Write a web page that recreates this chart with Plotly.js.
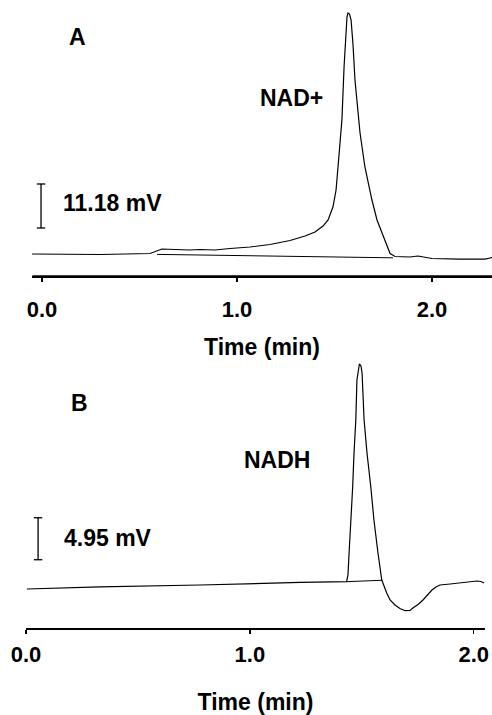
<!DOCTYPE html>
<html>
<head>
<meta charset="utf-8">
<script src="https://cdn.plot.ly/plotly-3.0.1.min.js"></script>
<style>html,body{margin:0;padding:0;background:#fff;}#chart{width:492px;height:715px;}</style>
</head>
<body>
<div id="chart"></div>
<script>
// Panel A (NAD+) chromatogram: time (min) and detector signal (mV, relative)
const timeA = [-0.051, 0.092, 0.297, 0.554, 0.590, 0.615, 0.682, 0.759, 0.810, 0.887, 0.964, 1.067, 1.169, 1.272, 1.349, 1.400, 1.441, 1.467, 1.492, 1.508, 1.518, 1.528, 1.538, 1.549, 1.559, 1.564, 1.569, 1.577, 1.585, 1.595, 1.605, 1.615, 1.631, 1.656, 1.692, 1.718, 1.744, 1.764, 1.785, 1.810, 1.887, 1.928, 1.964, 2.000, 2.144, 2.272, 2.297, 2.308];
const signalA = [0.00, 0.00, -0.13, 0.13, 0.76, 1.27, 1.14, 1.02, 1.14, 1.02, 1.40, 1.78, 2.41, 3.43, 4.57, 5.59, 7.11, 8.64, 11.94, 16.26, 22.11, 27.70, 34.05, 47.52, 58.19, 60.22, 61.24, 60.98, 59.46, 53.11, 44.21, 39.13, 30.75, 22.11, 13.72, 8.64, 5.34, 2.29, 0.13, -0.64, -0.76, -0.51, -0.90, -1.14, -1.30, -1.30, -1.02, -0.89];
const baseTimeA = [0.590, 1.800];
const baseSignalA = [-0.10, -0.97];

// Panel B (NADH) chromatogram
const timeB = [0.004, 0.330, 0.777, 1.000, 1.224, 1.432, 1.438, 1.443, 1.452, 1.459, 1.465, 1.473, 1.478, 1.483, 1.489, 1.496, 1.501, 1.510, 1.523, 1.540, 1.554, 1.572, 1.589, 1.611, 1.626, 1.648, 1.670, 1.693, 1.715, 1.728, 1.751, 1.773, 1.795, 1.813, 1.831, 1.849, 1.894, 1.939, 1.983, 2.014, 2.032, 2.046];
const signalB = [0.00, 0.24, 0.47, 0.65, 0.77, 0.86, 1.65, 4.24, 8.14, 12.03, 16.03, 19.93, 24.64, 25.82, 26.53, 26.29, 25.47, 19.93, 16.03, 12.03, 8.14, 4.24, 1.06, -0.47, -1.30, -1.89, -2.30, -2.56, -2.53, -2.24, -1.83, -1.30, -0.59, -0.12, 0.24, 0.47, 0.59, 0.74, 0.88, 0.94, 0.88, 0.71];
const baseTimeB = [1.432, 1.590];
const baseSignalB = [0.86, 1.03];

// Scale bars (mV)
const scaleA = 11.18;
const scaleB = 4.95;

// Tick labels
const tickVals = [0, 1, 2];
const tickText = ['0.0', '1.0', '2.0'];
const xTitle = 'Time (min)';
const peakA = 'NAD+';
const peakB = 'NADH';

const FONT = 'Liberation Sans, Arial, Helvetica, sans-serif';
const bold = (s) => ({family: FONT, size: s, color: '#000', weight: 'bold'});
const lineStyle = {color: '#000', width: 1.2};

const rangeXA = [-0.0513, 2.3077], rangeYA = [-5.59, 64.54];
const rangeXB = [0, 2.05], rangeYB = [-4.60, 27.0];

const barA_x = -0.005, barA_y0 = 6.61;
const barB_x = 0.054, barB_y0 = 3.45;

const traces = [
  {x: timeA, y: signalA, xaxis: 'x', yaxis: 'y', mode: 'lines', line: lineStyle, hoverinfo: 'skip'},
  {x: baseTimeA, y: baseSignalA, xaxis: 'x', yaxis: 'y', mode: 'lines', line: {color: '#000', width: 1}, hoverinfo: 'skip'},
  {x: [barA_x, barA_x], y: [barA_y0, barA_y0 + scaleA], xaxis: 'x', yaxis: 'y', mode: 'lines+markers',
   line: {color: '#000', width: 1.3}, marker: {symbol: 'line-ew-open', size: 6, color: '#000', line: {color: '#000', width: 1.3}}, hoverinfo: 'skip'},
  {x: timeB, y: signalB, xaxis: 'x2', yaxis: 'y2', mode: 'lines', line: lineStyle, hoverinfo: 'skip'},
  {x: baseTimeB, y: baseSignalB, xaxis: 'x2', yaxis: 'y2', mode: 'lines', line: {color: '#000', width: 1}, hoverinfo: 'skip'},
  {x: [barB_x, barB_x], y: [barB_y0, barB_y0 + scaleB], xaxis: 'x2', yaxis: 'y2', mode: 'lines+markers',
   line: {color: '#000', width: 1.3}, marker: {symbol: 'line-ew-open', size: 6, color: '#000', line: {color: '#000', width: 1.3}}, hoverinfo: 'skip'}
];

const xCommon = {
  tickvals: tickVals, ticktext: tickText, ticks: 'outside', ticklen: 4, tickwidth: 1.2, tickcolor: '#000',
  showline: true, linecolor: '#000', linewidth: 1.6, showgrid: false, zeroline: false,
  tickfont: bold(22), automargin: false
};
const yHidden = {showline: false, showticklabels: false, ticks: '', showgrid: false, zeroline: false, fixedrange: true, automargin: false};

const txt = (t, x, y, xanchor) => ({text: t, xref: 'paper', yref: 'paper', x: x / 492, y: 1 - y / 715,
  showarrow: false, font: bold(23), xanchor: xanchor, yanchor: 'middle'});

// Panel A axis baseline and ticks, drawn on the top layer so they stay visible
const axisArrowA = {text: '', xref: 'x', yref: 'y', x: rangeXA[1], y: rangeYA[0], axref: 'x', ayref: 'y', ax: rangeXA[0], ay: rangeYA[0],
  showarrow: true, arrowhead: 0, arrowwidth: 1.6, arrowcolor: '#000', standoff: 0, startstandoff: 0, borderpad: 0};
const tickArrowsA = tickVals.map(v => ({text: '', xref: 'x', yref: 'y', x: v, y: rangeYA[0], ax: 0, ay: 5,
  showarrow: true, arrowhead: 0, arrowwidth: 1.2, arrowcolor: '#000', standoff: 0, startstandoff: 0, borderpad: 0}));

const layout = {
  width: 492, height: 715,
  margin: {l: 0, r: 0, t: 0, b: 0},
  paper_bgcolor: '#fff', plot_bgcolor: '#fff',
  showlegend: false,
  xaxis: Object.assign({}, xCommon, {domain: [32/492, 1], range: rangeXA, anchor: 'y',
    ticklabelstandoff: 9, title: {text: xTitle, font: bold(23), standoff: 18}}),
  yaxis: Object.assign({}, yHidden, {domain: [1 - 276/715, 1], range: rangeYA, anchor: 'x'}),
  xaxis2: Object.assign({}, xCommon, {domain: [26/492, 485/492], range: rangeXB, anchor: 'y2',
    ticklabelstandoff: 2, title: {text: xTitle, font: bold(23), standoff: 46}}),
  yaxis2: Object.assign({}, yHidden, {domain: [1 - 628/715, 1 - 360/715], range: rangeYB, anchor: 'x2'}),
  annotations: [
    txt('A', 77, 37, 'center'),
    txt(peakA, 291, 98, 'center'),
    txt(scaleA.toFixed(2) + ' mV', 61, 203, 'left'),
    txt('B', 79, 403, 'center'),
    txt(peakB, 277, 460, 'center'),
    txt(scaleB.toFixed(2) + ' mV', 62, 538, 'left'),
    axisArrowA
  ].concat(tickArrowsA)
};

Plotly.newPlot('chart', traces, layout, {displayModeBar: false, staticPlot: true});
</script>
</body>
</html>
